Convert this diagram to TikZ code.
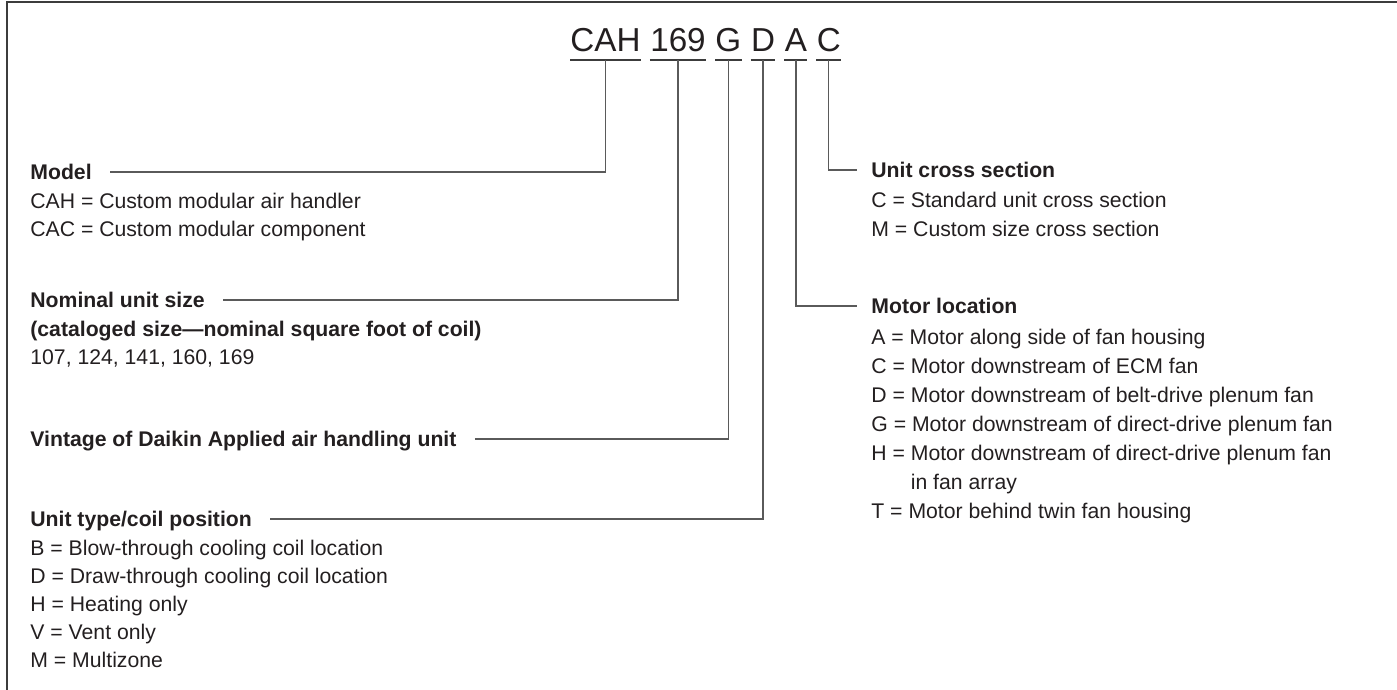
\documentclass[tikz,border=0pt]{standalone}
\usepackage{fontspec}
\setmainfont{Liberation Sans}
\usetikzlibrary{positioning}
\definecolor{codeInk}{HTML}{231F20}
\definecolor{codeLine}{HTML}{5A5A5A}
\definecolor{codeFrame}{HTML}{3C3C3C}
\tikzset{
    codeSeg/.style={
        anchor=base west,
        inner xsep=0pt,
        inner ysep=4pt,
        text depth=0pt,
        font=\fontsize{16.6}{20}\selectfont,
        text=codeInk
    },
    codeUnder/.style={draw=codeFrame, line width=1pt},
    fieldHead/.style={
        anchor=west,
        inner sep=0pt,
        text height=7.6pt,
        text depth=0pt,
        font=\fontsize{10.6}{14}\selectfont\bfseries,
        text=codeInk
    },
    fieldList/.style={
        inner sep=0pt,
        align=left,
        font=\fontsize{10.6}{14}\selectfont,
        text=codeInk
    },
    fieldListWide/.style={fieldList, font=\fontsize{10.6}{14.5}\selectfont},
    % Leaders
    leader/.style={draw=codeLine, line width=0.65pt}
}
\begin{document}
\begin{tikzpicture}[x=0.5pt, y=-0.5pt]
    \useasboundingbox (0,0) rectangle (1397,690);
    \draw[draw=codeFrame, line width=1pt] (7,690) -- (7,2) -- (1397,2);

    % model number
    \node[codeSeg] (codeCAH) at (570,52) {CAH};
    \node[codeSeg, right=4.5pt of codeCAH.base east, anchor=base west] (code169) {169};
    \node[codeSeg, right=4.5pt of code169.base east, anchor=base west] (codeG) {G};
    \node[codeSeg, right=4.5pt of codeG.base east, anchor=base west] (codeD) {D};
    \node[codeSeg, right=4.5pt of codeD.base east, anchor=base west] (codeA) {A};
    \node[codeSeg, right=4.5pt of codeA.base east, anchor=base west] (codeC) {C};
    \foreach \seg in {CAH,169,G,D,A,C}
        \draw[codeUnder] (code\seg.south west) -- (code\seg.south east);

    % left fields
    \node[fieldHead] (mdlHead) at (30,172) {Model};
    \node[fieldList, below=6.4pt of mdlHead.south west, anchor=north west] (mdlList) {CAH = Custom modular air handler\\
    CAC = Custom modular component};

    \node[fieldHead] (nomHead) at (30,300) {Nominal unit size};
    \node[fieldList, below=6.4pt of nomHead.south west, anchor=north west] (nomList) {\textbf{(cataloged size---nominal square foot of coil)}\\
    107, 124, 141, 160, 169};

    \node[fieldHead] (vinHead) at (30,439) {Vintage of Daikin Applied air handling unit};

    \node[fieldHead] (typHead) at (30,519) {Unit type/coil position};
    \node[fieldList, below=6.4pt of typHead.south west, anchor=north west] (typList) {B = Blow-through cooling coil location\\
    D = Draw-through cooling coil location\\
    H = Heating only\\
    V = Vent only\\
    M = Multizone};

    % right fields
    \node[fieldHead] (csHead) at (871,170) {Unit cross section};
    \node[fieldListWide, below=7pt of csHead.south west, anchor=north west] (csList) {C = Standard unit cross section\\
    M = Custom size cross section};

    \node[fieldHead] (motHead) at (871,306) {Motor location};
    \node[fieldListWide, below=7.4pt of motHead.south west, anchor=north west] (motList) {A = Motor along side of fan housing\\
    C = Motor downstream of ECM fan\\
    D = Motor downstream of belt-drive plenum fan\\
    G = Motor downstream of direct-drive plenum fan\\
    H = Motor downstream of direct-drive plenum fan\\
    \hphantom{H = }in fan array\\
    T = Motor behind twin fan housing};

    % leaders
    \draw[leader] ([xshift=9pt]mdlHead.east) -| (codeCAH.south);
    \draw[leader] ([xshift=9pt]nomHead.east) -| (code169.south);
    \draw[leader] ([xshift=9pt]vinHead.east) -| (codeG.south);
    \draw[leader] ([xshift=9pt]typHead.east) -| (codeD.south);
    \draw[leader] (codeC.south) |- ([xshift=-7pt]csHead.west);
    \draw[leader] (codeA.south) |- ([xshift=-7pt]motHead.west);
\end{tikzpicture}
\end{document}
